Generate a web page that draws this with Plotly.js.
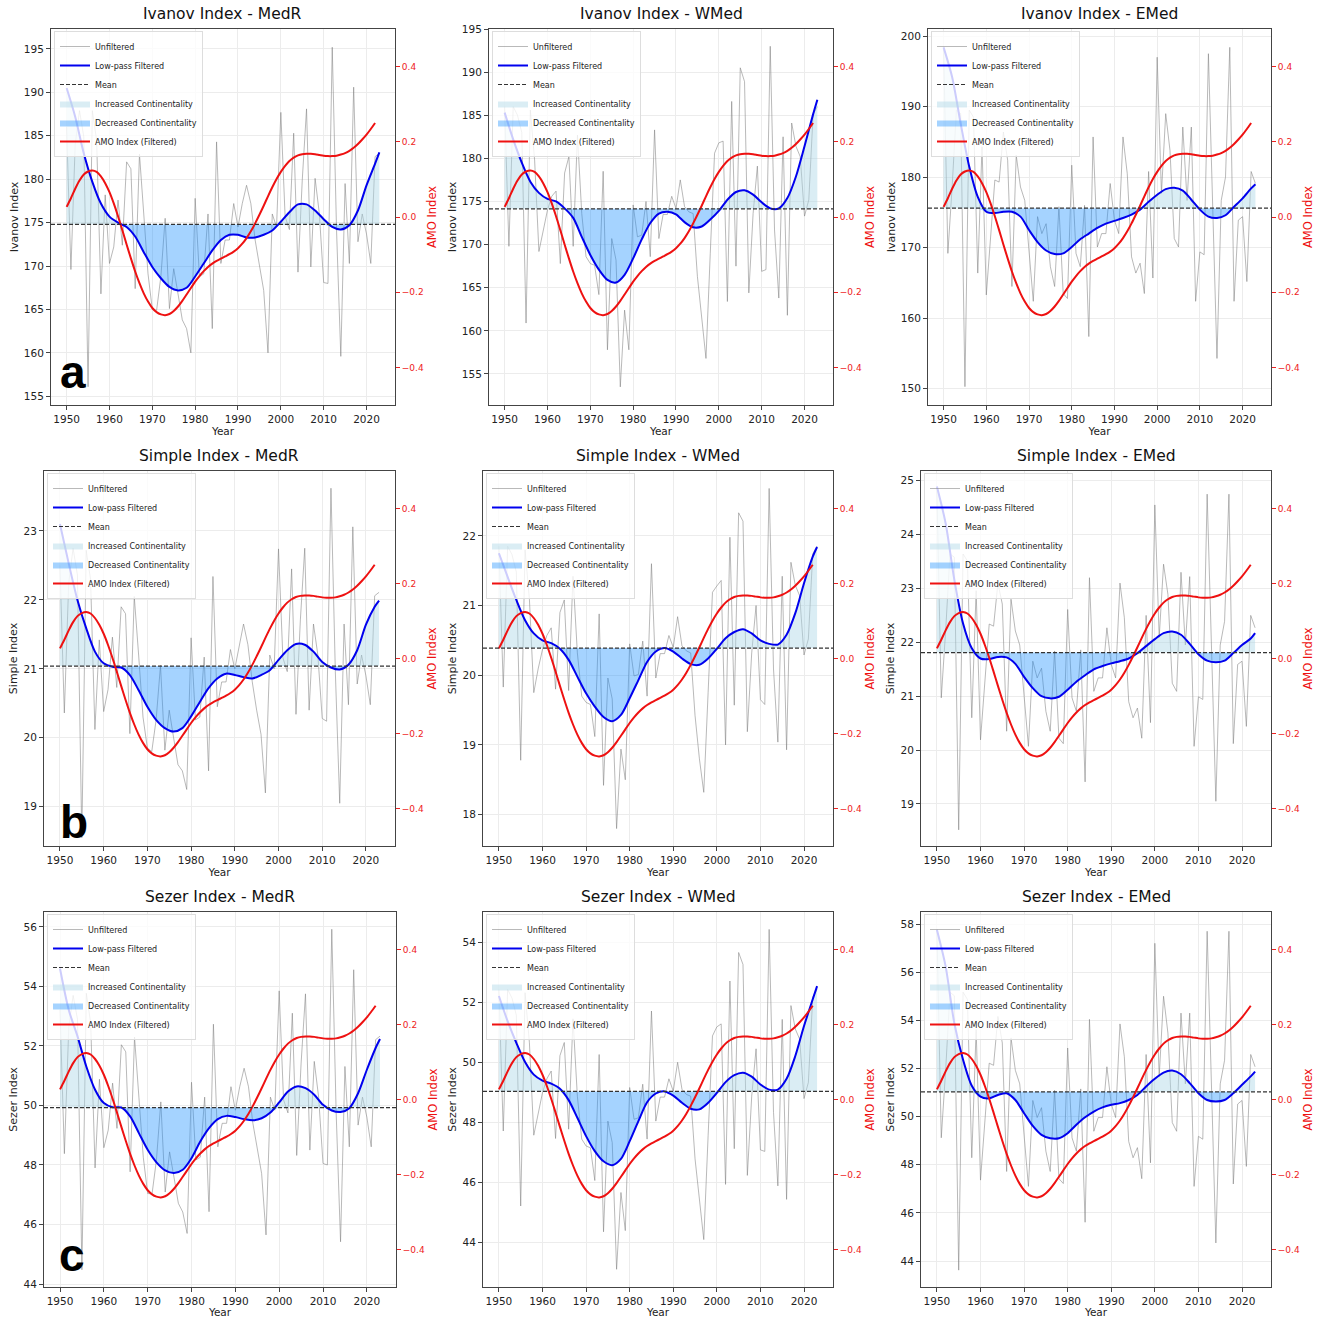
<!DOCTYPE html>
<html><head><meta charset="utf-8">
<script src="https://cdn.plot.ly/plotly-3.0.1.min.js"></script>
<style>html,body{margin:0;padding:0;background:#fff}</style>
</head><body>
<div id="chart" style="width:1323px;height:1318px"></div>
<script>
// ---------------- DATA ----------------
const years = [1950,1951,1952,1953,1954,1955,1956,1957,1958,1959,1960,1961,1962,1963,1964,1965,1966,1967,1968,1969,1970,1971,1972,1973,1974,1975,1976,1977,1978,1979,1980,1981,1982,1983,1984,1985,1986,1987,1988,1989,1990,1991,1992,1993,1994,1995,1996,1997,1998,1999,2000,2001,2002,2003,2004,2005,2006,2007,2008,2009,2010,2011,2012,2013,2014,2015,2016,2017,2018,2019,2020,2021,2022,2023];
const filtYears = [1950,1952,1954,1956,1958,1960,1962,1964,1966,1968,1970,1972,1974,1976,1978,1980,1982,1984,1986,1988,1990,1992,1994,1996,1998,2000,2002,2004,2006,2008,2010,2012,2014,2016,2018,2020,2022,2023];

const amoFiltered = [0.027,0.05,0.075,0.097,0.113,0.121,0.124,0.12,0.108,0.09,0.066,0.036,0.002,-0.035,-0.073,-0.11,-0.145,-0.176,-0.203,-0.225,-0.242,-0.253,-0.259,-0.261,-0.258,-0.25,-0.238,-0.223,-0.206,-0.189,-0.172,-0.157,-0.144,-0.133,-0.124,-0.117,-0.111,-0.105,-0.099,-0.092,-0.083,-0.071,-0.056,-0.038,-0.017,0.006,0.03,0.055,0.079,0.101,0.12,0.136,0.149,0.158,0.164,0.167,0.168,0.168,0.167,0.165,0.163,0.162,0.162,0.163,0.166,0.17,0.176,0.184,0.194,0.206,0.219,0.234,0.25];

const ivanovMedR = [186,169.6,184,187.9,184.9,156.1,187.9,184.5,166.8,178.2,170.3,172.2,177.6,172.4,182.0,181.2,167.4,182.9,176.0,169.1,165.0,164.9,168.8,175.5,165.1,169.7,166.8,163.8,162.8,160.0,177.8,168.8,169.1,176.0,162.8,184.3,170.3,173.0,173.0,177.2,174.5,177.2,179.3,177.2,173.0,169.9,167.2,160.0,176.0,174.5,187.7,175.7,174.2,185.3,169.3,179.9,188.1,169.9,180.1,176.0,168.1,168.0,195.2,174.2,159.6,179.5,170.3,190.6,172.8,176.0,173.7,170.3,182.6,183.0];
const ivanovMedRFilt = [190.5,187.2,183.0,179.7,177.2,175.7,175.0,174.5,173.4,171.6,169.9,168.6,167.6,167.2,167.5,168.8,170.3,171.8,173.0,173.6,173.6,173.3,173.3,173.6,174.1,175.1,176.2,177.1,177.1,176.4,175.4,174.5,174.2,174.7,176.4,179.3,181.8,183.1];

const ivanovWMed = [186.0,169.8,186.0,185.0,183.0,160.9,185.6,179.8,169.2,171.7,174.0,175.6,176.2,167.8,178.3,180.2,169.8,182.7,173.6,168.6,167.8,167.6,164.2,178.5,157.8,170.7,168.2,153.5,162.4,157.8,174.6,170.9,171.1,175.0,168.6,183.3,170.7,173.5,173.5,175.6,174.2,177.5,174.4,173.8,173.6,166.3,161.3,156.8,169.0,180.6,181.8,182.0,163.4,186.6,167.5,190.5,188.9,164.4,173.6,179.1,166.9,167.1,193.0,171.7,163.8,182.5,161.8,184.1,181.4,180.2,173.3,175.2,185.1,186.0];
const ivanovWMedFilt = [185.3,182.2,179.5,177.3,176.0,175.3,175.0,174.2,173.1,170.9,168.8,167.1,165.9,165.6,166.5,168.4,170.6,172.5,173.6,173.8,173.5,172.6,172.0,172.1,172.9,173.9,175.2,176.1,176.3,175.8,174.9,174.2,174.2,175.4,177.9,181.4,185.1,186.8];

const ivanovEMed = [198.4,169.2,178.6,189.5,189.0,150.3,189.5,188.5,166.4,184.3,163.3,171.1,179.6,179.3,186.4,182.4,164.5,183.1,178.6,176.7,169.2,162.4,174.4,172.0,173.4,167.3,164.5,175.8,163.5,162.8,181.7,169.2,167.3,176.0,157.4,185.7,170.1,172.0,172.0,179.1,173.9,172.0,185.7,180.5,168.7,166.4,167.8,163.5,180.8,165.7,197.0,177.7,189.0,183.8,171.3,170.1,187.1,176.7,187.1,162.4,169.4,169.0,197.5,174.9,154.3,176.7,180.0,198.4,162.4,173.9,174.4,165.2,180.8,179.1];
const ivanovEMedFilt = [198.4,194.2,187.6,181.5,177.2,175.1,174.9,175.1,175.1,174.4,172.5,170.8,169.6,169.1,169.2,170.1,171.2,172.0,172.8,173.4,173.8,174.2,174.7,175.4,176.5,177.5,178.3,178.5,178.1,176.8,175.4,174.4,174.2,174.6,175.8,177.0,178.4,179.0];

const simpleMedR = [22.50,20.36,22.24,22.75,22.36,18.55,22.72,22.30,20.12,21.42,20.38,20.70,21.46,20.73,21.90,21.80,20.06,22.05,21.20,20.30,19.85,19.80,20.26,21.05,19.82,20.40,20.00,19.61,19.52,19.25,21.45,20.26,20.30,21.17,19.52,22.34,20.45,20.81,20.81,21.28,21.00,21.35,21.65,21.35,20.81,20.40,20.05,19.20,21.20,21.00,22.74,21.16,20.96,22.45,20.34,21.71,22.75,20.40,21.65,21.20,20.28,20.24,23.62,20.96,19.05,21.65,20.48,23.06,20.78,21.20,20.90,20.48,22.06,22.11];
const simpleMedRFilt = [23.10,22.53,22.00,21.59,21.25,21.08,21.03,21.02,20.91,20.69,20.45,20.26,20.14,20.09,20.14,20.31,20.52,20.72,20.86,20.93,20.91,20.88,20.86,20.91,20.98,21.13,21.27,21.36,21.35,21.25,21.10,21.02,20.99,21.06,21.27,21.64,21.90,21.99];

const simpleWMed = [21.85,19.83,21.85,21.73,21.48,18.78,21.80,21.09,19.75,20.09,20.37,20.57,20.68,19.80,20.90,21.08,19.78,21.42,20.32,19.70,19.61,19.58,19.12,20.88,18.42,19.96,19.66,17.80,18.94,18.50,20.45,19.99,20.01,20.49,19.70,21.60,19.96,20.31,20.31,20.57,20.40,20.84,20.42,20.35,20.32,19.42,18.80,18.32,19.75,21.19,21.28,21.36,19.00,21.98,19.57,22.33,22.21,19.19,20.32,21.00,19.65,19.58,22.68,20.09,19.04,21.42,18.93,21.62,21.29,21.14,20.29,20.52,21.74,21.85];
const simpleWMedFilt = [21.75,21.41,21.08,20.79,20.60,20.50,20.46,20.38,20.22,19.98,19.74,19.55,19.40,19.34,19.43,19.67,19.93,20.19,20.34,20.39,20.34,20.24,20.16,20.15,20.24,20.38,20.53,20.62,20.66,20.60,20.50,20.45,20.44,20.58,20.89,21.32,21.70,21.84];

const simpleEMed = [24.82,20.97,22.21,23.64,23.58,18.52,23.64,23.51,20.60,22.96,20.19,21.22,22.34,22.30,23.10,22.71,20.35,22.80,22.21,21.95,20.97,20.07,21.65,21.34,21.52,20.72,20.35,21.84,20.22,20.12,22.61,20.97,20.72,21.86,19.41,23.20,21.09,21.34,21.34,22.27,21.59,21.34,23.10,22.46,20.90,20.60,20.78,20.22,22.50,20.51,24.55,22.09,23.45,22.89,21.24,21.09,23.30,21.95,23.22,20.07,20.99,20.94,24.75,21.72,19.05,21.95,22.39,24.75,20.12,21.59,21.65,20.44,22.50,22.27];
const simpleEMedFilt = [24.89,24.21,23.16,22.35,21.89,21.70,21.69,21.73,21.72,21.60,21.36,21.15,21.00,20.96,20.99,21.12,21.27,21.39,21.50,21.56,21.61,21.65,21.70,21.80,21.93,22.06,22.17,22.20,22.14,21.97,21.78,21.66,21.63,21.66,21.80,21.95,22.07,22.17];

const sezerMedR = [53.21,48.38,52.62,53.70,52.89,44.48,53.77,52.77,47.90,50.88,48.58,49.17,50.75,49.23,52.04,51.80,47.77,52.30,50.28,48.26,47.04,47.03,48.17,50.12,47.09,48.44,47.59,46.71,46.42,45.70,50.78,48.17,48.26,50.28,46.43,52.73,48.61,49.40,49.40,50.63,49.84,50.63,51.25,50.63,49.40,48.50,47.71,45.65,50.28,49.84,53.85,50.19,49.75,53.10,48.32,51.42,53.75,48.50,51.48,50.28,48.05,48.00,55.92,49.75,45.42,51.31,48.61,54.56,49.34,50.28,49.61,48.61,52.21,52.33];
const sezerMedRFilt = [54.60,53.21,52.32,51.31,50.53,50.08,49.94,49.93,49.63,49.07,48.51,48.09,47.82,47.73,47.84,48.23,48.79,49.24,49.54,49.65,49.61,49.54,49.50,49.57,49.76,50.10,50.47,50.64,50.58,50.36,50.02,49.83,49.78,49.91,50.41,51.20,51.93,52.23];

const sezerWMed = [52.42,47.70,52.42,52.13,51.56,45.20,52.31,50.64,47.56,48.32,48.98,49.44,49.70,47.45,50.21,50.65,47.76,51.44,48.86,47.43,47.20,47.14,46.05,50.25,44.34,48.03,47.31,43.09,45.65,44.38,49.15,48.09,48.14,49.26,47.43,51.70,48.03,48.83,48.83,49.44,49.03,49.99,49.09,48.92,48.86,46.77,45.33,44.08,47.54,50.87,51.17,51.27,45.92,52.70,47.11,53.65,53.25,46.22,48.86,50.44,47.07,47.02,54.42,48.32,45.87,51.42,45.42,51.88,51.10,50.76,48.78,49.32,52.16,52.42];
const sezerWMedFilt = [52.20,51.36,50.64,50.00,49.58,49.38,49.28,49.11,48.73,48.14,47.53,47.03,46.69,46.56,46.77,47.36,48.03,48.66,48.95,49.02,48.88,48.64,48.44,48.42,48.64,48.97,49.33,49.56,49.64,49.51,49.25,49.08,49.08,49.44,50.20,51.20,52.09,52.53];

const sezerEMed = [57.75,49.12,51.92,55.17,55.02,43.62,55.17,54.87,48.29,53.62,47.36,49.69,52.22,52.13,54.16,53.06,47.72,53.27,51.92,51.36,49.12,47.10,50.67,49.96,50.37,48.56,47.72,51.09,47.42,47.22,52.85,49.12,48.56,51.15,45.61,54.04,49.39,49.96,49.96,52.07,50.52,49.96,53.85,52.49,48.97,48.29,48.71,47.42,52.58,48.08,57.20,51.66,55.00,53.47,49.75,49.39,54.30,51.36,54.30,47.10,49.18,49.06,57.70,50.82,44.75,51.36,52.34,57.70,47.20,50.52,50.67,47.93,52.58,52.07];
const sezerEMedFilt = [57.76,56.24,53.88,52.36,51.28,50.83,50.76,50.90,50.97,50.69,50.14,49.61,49.24,49.10,49.10,49.31,49.66,49.97,50.21,50.38,50.49,50.56,50.69,50.90,51.25,51.57,51.83,51.91,51.76,51.39,50.97,50.69,50.63,50.69,50.97,51.32,51.67,51.87];

const means = [174.8,174.15,175.6,21.04,20.39,21.81,49.93,49.02,51.03];
const titles = ['Ivanov Index - MedR','Ivanov Index - WMed','Ivanov Index - EMed','Simple Index - MedR','Simple Index - WMed','Simple Index - EMed','Sezer Index - MedR','Sezer Index - WMed','Sezer Index - EMed'];
const yLabels = ['Ivanov Index','Ivanov Index','Ivanov Index','Simple Index','Simple Index','Simple Index','Sezer Index','Sezer Index','Sezer Index'];
const rawSeries = [ivanovMedR,ivanovWMed,ivanovEMed,simpleMedR,simpleWMed,simpleEMed,sezerMedR,sezerWMed,sezerEMed];
const filtSeries = [ivanovMedRFilt,ivanovWMedFilt,ivanovEMedFilt,simpleMedRFilt,simpleWMedFilt,simpleEMedFilt,sezerMedRFilt,sezerWMedFilt,sezerEMedFilt];
const panelLetters = ['a','','','b','','','c','',''];

// ---------------- LAYOUT CONFIG ----------------
const W = 1323, H = 1318;
const yRanges = [[154.0,197.3],[151.4,195.0],[147.7,201.0],[18.43,23.87],[17.55,22.93],[18.22,25.18],[43.9,56.5],[42.5,55.0],[42.92,58.5]];
const yDticks = [5,5,10,1,1,1,2,2,2];
const colPxRows = [
  [[51,395],[489,833],[928,1271]],
  [[44,395],[483,833],[921,1271]],
  [[44,396],[483,833],[921,1271]]
];
const rowPx = [[29,405],[471,846],[912,1287]];
const letterPos = [[0.02,0.012],[0,0],[0,0],[0.04,-0.01],[0,0],[0,0],[0.037,0.01],[0,0],[0,0]];

const traces = [];
const layout = {
  width: W, height: H,
  margin: {l:0, r:0, t:0, b:0},
  paper_bgcolor: '#fff', plot_bgcolor: '#fff',
  hovermode: false,
  font: {family: 'DejaVu Sans', color: '#222'},
  annotations: [], shapes: []
};

const FONT = 'DejaVu Sans';
for (let i = 0; i < 9; i++) {
  const r = Math.floor(i/3), c = i % 3, n = i + 1;
  const sfx = n === 1 ? '' : String(n);
  const xa = 'x' + sfx, ya = 'y' + sfx, ya2 = 'y' + (n + 9);
  const leg = n === 1 ? 'legend' : 'legend' + n;
  const cp = colPxRows[r][c];
  const xd = [cp[0]/W, cp[1]/W];
  const yd = [1 - rowPx[r][1]/H, 1 - rowPx[r][0]/H];
  const m = means[i];
  const filt = filtSeries[i];
  const meanLine = filt.map(() => m);

  traces.push({x: years, y: rawSeries[i], xaxis: xa, yaxis: ya, type: 'scatter', mode: 'lines',
    name: 'Unfiltered', line: {color: 'rgba(128,128,128,0.55)', width: 1}, legend: leg, legendrank: 1});
  traces.push({x: filtYears, y: meanLine, xaxis: xa, yaxis: ya, type: 'scatter', mode: 'lines',
    line: {width: 0}, showlegend: false, hoverinfo: 'skip'});
  traces.push({x: filtYears, y: filt.map(v => Math.max(v, m)), xaxis: xa, yaxis: ya, type: 'scatter', mode: 'lines',
    fill: 'tonexty', fillcolor: 'rgba(173,216,230,0.45)', line: {width: 0, shape: 'spline', smoothing: 0.8},
    name: 'Increased Continentality', legend: leg, legendrank: 4});
  traces.push({x: filtYears, y: meanLine, xaxis: xa, yaxis: ya, type: 'scatter', mode: 'lines',
    line: {width: 0}, showlegend: false, hoverinfo: 'skip'});
  traces.push({x: filtYears, y: filt.map(v => Math.min(v, m)), xaxis: xa, yaxis: ya, type: 'scatter', mode: 'lines',
    fill: 'tonexty', fillcolor: 'rgba(30,144,255,0.4)', line: {width: 0, shape: 'spline', smoothing: 0.8},
    name: 'Decreased Continentality', legend: leg, legendrank: 5});
  traces.push({x: filtYears, y: filt, xaxis: xa, yaxis: ya, type: 'scatter', mode: 'lines',
    name: 'Low-pass Filtered', line: {color: '#0000ee', width: 2, shape: 'spline', smoothing: 0.8}, legend: leg, legendrank: 2});
  traces.push({x: [null], y: [null], xaxis: xa, yaxis: ya, type: 'scatter', mode: 'lines',
    name: 'Mean', line: {color: '#333', width: 1.2, dash: '4px,2px'}, legend: leg, legendrank: 3});
  traces.push({x: years.slice(0, amoFiltered.length), y: amoFiltered, xaxis: xa, yaxis: ya2, type: 'scatter', mode: 'lines',
    name: 'AMO Index (Filtered)', line: {color: '#ee1111', width: 2, shape: 'spline', smoothing: 0.8}, legend: leg, legendrank: 6});

  layout.shapes.push({type: 'line', xref: xa + ' domain', yref: ya, x0: 0, x1: 1, y0: m, y1: m,
    line: {color: '#333', width: 1.2, dash: '4px,2px'}, layer: 'above'});

  layout['xaxis' + sfx] = {domain: xd, anchor: ya, range: [1946.35, 2026.65], tick0: 1950, dtick: 10,
    ticks: 'outside', ticklen: 4, tickcolor: '#444', showline: true, mirror: true, linecolor: '#444', linewidth: 1,
    showgrid: true, gridcolor: '#ececec', zeroline: false, tickfont: {size: 10.5, color: '#222', family: FONT},
    title: {text: 'Year', font: {size: 10.5, color: '#222', family: FONT}, standoff: 2}};
  layout['yaxis' + sfx] = {domain: yd, anchor: xa, range: yRanges[i], dtick: yDticks[i],
    ticks: 'outside', ticklen: 4, tickcolor: '#444', showline: true, mirror: true, linecolor: '#444', linewidth: 1,
    showgrid: true, gridcolor: '#ececec', zeroline: false, tickfont: {size: 10.5, color: '#222', family: FONT},
    title: {text: yLabels[i], font: {size: 11, color: '#222', family: FONT}, standoff: 3}};
  layout['yaxis' + (n + 9)] = {overlaying: ya, anchor: xa, side: 'right', range: [-0.5, 0.5], tick0: 0, dtick: 0.2,
    tickformat: '.1f', ticks: 'outside', ticklen: 4, tickcolor: '#ee2222', showline: false, showgrid: false, zeroline: false,
    tickfont: {size: 9, color: '#ee2222', family: FONT},
    title: {text: 'AMO Index', font: {size: 11.5, color: '#ee1111', family: FONT}, standoff: 5}};

  layout[leg] = {x: (cp[0] + 3)/W, y: 1 - (rowPx[r][0] + 2)/H, xanchor: 'left', yanchor: 'top',
    traceorder: 'normal',
    bgcolor: 'rgba(255,255,255,0.8)', bordercolor: '#dddddd', borderwidth: 1,
    font: {size: 8, color: '#222', family: FONT}, tracegroupgap: 0, itemwidth: 30};

  layout.annotations.push({text: titles[i], xref: 'paper', yref: 'paper', x: (cp[0] + cp[1])/2/W,
    y: 1 - (rowPx[r][0] - 4)/H, xanchor: 'center', yanchor: 'bottom', showarrow: false,
    font: {size: 15.5, color: '#111', family: FONT}});

  if (panelLetters[i]) {
    layout.annotations.push({text: '<b>' + panelLetters[i] + '</b>', xref: xa + ' domain', yref: ya + ' domain',
      x: letterPos[i][0], y: letterPos[i][1], xanchor: 'left', yanchor: 'bottom', showarrow: false,
      font: {size: 46, color: '#000', family: 'Liberation Sans'}});
  }
}

Plotly.newPlot('chart', traces, layout, {displayModeBar: false, staticPlot: true});
</script>
</body></html>
